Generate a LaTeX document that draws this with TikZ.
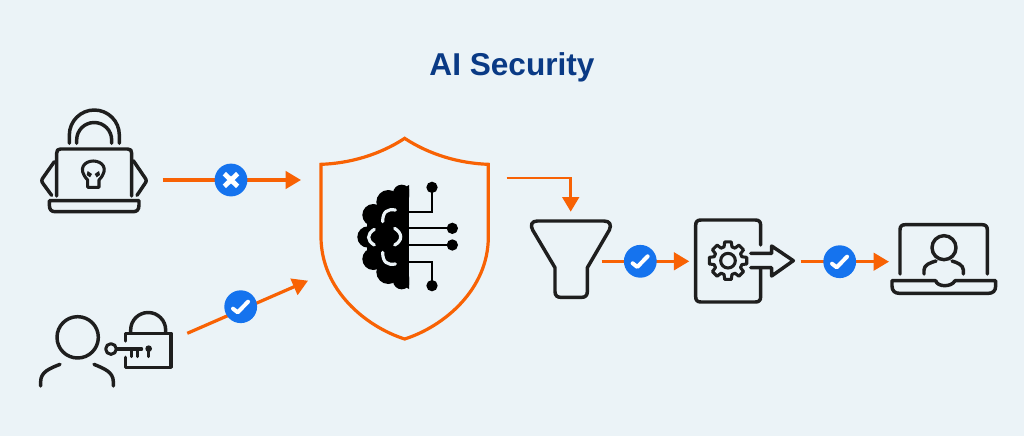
\documentclass[tikz,border=0pt]{standalone}
\usepackage{fontspec}
\setmainfont{Liberation Sans}
\usetikzlibrary{arrows.meta}
\definecolor{bg}{HTML}{EBF3F7}
\definecolor{org}{HTML}{F86204}
\definecolor{blu}{HTML}{1573EE}
\definecolor{ink}{HTML}{1E1E1E}
\definecolor{ttl}{HTML}{0A3A85}
\tikzset{
  icon/.style={draw=ink,line width=2.6pt,line cap=round,line join=round},
  thinicon/.style={draw=ink,line width=2.3pt,line cap=round,line join=round},
  flow/.style={draw=org,line width=2.4pt,-{Triangle[length=11.5pt,width=13pt]}},
  elbow/.style={draw=org,line width=2.1pt,-{Triangle[length=11pt,width=12.5pt]}},
  badge/.style={circle,fill=blu,draw=none,minimum size=24.6pt,inner sep=0pt},
  mk/.style={draw=white,line width=3pt,line cap=round,line join=round},
  zoomed/.style={x=.25pt,y=-.25pt}
}
\newcommand{\chk}[1]{\draw[mk,shift={(#1.center)},zoomed] (-23,6) -- (-9,17) -- (22,-15);}
\newcommand{\crs}[1]{\draw[mk,line cap=butt,line width=3.6pt,shift={(#1.center)},zoomed] (-20,-19) -- (20,19) (20,-19) -- (-20,19);}
\begin{document}
\begin{tikzpicture}[x=.75pt,y=-.75pt]
\useasboundingbox (0,0) rectangle (1024,436);
\fill[bg] (0,0) rectangle (1024,436);
\node[font=\bfseries\fontsize{23.7pt}{26pt}\selectfont,text=ttl,inner sep=0pt] (title) at (512,67) {AI Security};

% connector ends
\coordinate (a1s) at (162.7,180); \coordinate (a1e) at (301,180);
\coordinate (a2s) at (187.3,333.3); \coordinate (a2e) at (308,280.7);
\coordinate (a3s) at (506.7,178); \coordinate (a3c) at (570.7,178); \coordinate (a3e) at (570.7,211.7);
\coordinate (a4s) at (601.7,261.3); \coordinate (a4e) at (689.3,261.3);
\coordinate (a5s) at (800.7,261.7); \coordinate (a5e) at (889,261.7);

\draw[flow] (a1s) -- (a1e);
\draw[flow] (a2s) -- (a2e);
\draw[elbow] (a3s) -- (a3c) -- (a3e);
\draw[flow] (a4s) -- (a4e);
\draw[flow] (a5s) -- (a5e);

\node[badge] (b1) at (231,180) {}; \crs{b1}
\node[badge] (b2) at (240.7,306.7) {}; \chk{b2}
\node[badge] (b3) at (640.3,261.3) {}; \chk{b3}
\node[badge] (b4) at (839.7,261.7) {}; \chk{b4}

% hacker laptop
\begin{scope}[shift={(20,90)},zoomed]
  \draw[icon] (148,160) -- (148,135) arc[start angle=180,end angle=360,radius=75] -- (298,160);
  \draw[icon] (170,160) -- (170,150) arc[start angle=180,end angle=360,radius=52.5] -- (275,160);
  \draw[icon] (110,318) -- (110,190) .. controls (110,181) and (113,177) .. (122,177) -- (323,177) .. controls (332,177) and (335,181) .. (335,190) -- (335,318);
  \draw[icon] (103,215) -- (70,262) .. controls (64,270) and (64,274) .. (70,282) -- (95,316);
  \draw[icon] (340,212) -- (374,262) .. controls (380,270) and (380,274) .. (374,282) -- (351,316);
  \draw[icon] (88,332) -- (357,332) -- (357,345) .. controls (357,360) and (350,365) .. (340,365) -- (105,365) .. controls (95,365) and (88,360) .. (88,345) -- cycle;
  \draw[thinicon] (203,270) .. controls (170,235) and (195,213) .. (220,213) .. controls (245,213) and (270,235) .. (237,270) -- (237,292) -- (203,292) -- cycle;
  \fill[ink] (203,243) -- (216,252) -- (210,262) -- (200,255) -- cycle;
  \fill[ink] (237,243) -- (224,252) -- (230,262) -- (240,255) -- cycle;
\end{scope}

% user with key and lock
\begin{scope}[shift={(20,270)},zoomed]
  \draw[icon] (173,202) circle[radius=62];
  \draw[icon] (62,348) -- (62,335) .. controls (62,305) and (90,295) .. (120,283);
  \draw[icon] (280,348) -- (280,335) .. controls (280,305) and (250,295) .. (222,283);
  \draw[icon] (332,188) -- (332,180) arc[start angle=180,end angle=360,radius=52.5] -- (437,188);
  \draw[icon] (316,213) -- (316,190) -- (453,190) -- (453,292) -- (316,292) -- (316,262);
  \draw[thinicon] (273,237) circle[radius=16];
  \draw[thinicon] (290,237) -- (365,237) (335,237) -- (335,260) (352,237) -- (352,260);
  \fill[ink] (386,236) circle[radius=10];
  \draw[thinicon] (386,240) -- (386,260);
\end{scope}

% shield with brain
\begin{scope}[shift={(310,130)},zoomed]
  \draw[draw=org,line width=2.4pt,line join=miter] (284,25) .. controls (360,75) and (450,100) .. (535,103)
    -- (535,320) .. controls (535,480) and (400,590) .. (284,627)
    .. controls (168,590) and (33,480) .. (33,320) -- (33,103)
    .. controls (118,100) and (208,75) .. (284,25) -- cycle;
  \begin{scope}
    \clip (100,140) rectangle (297,500);
    \fill[black] (275,190) circle[radius=26];
    \fill[black] (235,216) circle[radius=36];
    \fill[black] (190,255) circle[radius=33];
    \fill[black] (174,321) circle[radius=32];
    \fill[black] (190,387) circle[radius=33];
    \fill[black] (235,426) circle[radius=36];
    \fill[black] (275,452) circle[radius=26];
    \fill[black] (200,215) rectangle (297,427);
    \fill[black] (170,270) rectangle (297,372);
    \fill[black] (262,180) rectangle (297,462);
    \fill[black] (297,165) -- (262,185) -- (297,200) -- cycle;
    \fill[black] (297,477) -- (262,457) -- (297,442) -- cycle;
  \end{scope}
  \draw[draw=bg,line width=2.4pt,line cap=round] (256,240) .. controls (232,236) and (218,245) .. (218,275);
  \draw[draw=bg,line width=2.4pt,line cap=round] (256,402) .. controls (232,406) and (218,397) .. (218,367);
  \draw[draw=bg,line width=2.4pt,line cap=round] (193,298) .. controls (170,312) and (170,332) .. (193,345);
  \draw[draw=bg,line width=2.4pt,line cap=round] (254,295) .. controls (278,310) and (278,332) .. (254,345);
  \draw[black,line width=1.5pt] (297,247) -- (367,247) -- (367,172);
  \draw[black,line width=1.5pt] (297,295) -- (427,295);
  \draw[black,line width=1.5pt] (297,345) -- (427,345);
  \draw[black,line width=1.5pt] (297,395) -- (367,395) -- (367,467);
  \fill[black] (366,172) circle[radius=17];
  \fill[black] (427,295) circle[radius=17];
  \fill[black] (427,345) circle[radius=17];
  \fill[black] (366,467) circle[radius=17];
\end{scope}

% funnel and document with gear
\begin{scope}[shift={(500,170)},zoomed]
  \draw[icon] (120,153) -- (312,153) .. controls (330,153) and (335,165) .. (328,180) -- (262,293) -- (262,365) .. controls (262,377) and (255,382) .. (245,382) -- (182,382) .. controls (172,382) and (165,377) .. (165,365) -- (165,293) -- (98,180) .. controls (90,165) and (95,153) .. (112,153) -- cycle;
  \draw[icon] (782,225) -- (782,166) .. controls (782,155) and (777,150) .. (766,150) -- (603,150) .. controls (592,150) and (587,155) .. (587,166) -- (587,380) .. controls (587,391) and (592,396) .. (603,396) -- (766,396) .. controls (777,396) and (782,391) .. (782,380) -- (782,297);
  \draw[icon] (752,250) -- (815,250) -- (815,228) -- (880,272) -- (815,318) -- (815,293) -- (752,293);
  \begin{scope}[shift={(684,272)}]
    \draw[thinicon] (0,0) circle[radius=22];
    \draw[thinicon] (-16:43) \foreach \a in {0,45,...,315} { -- (\a-16:43) -- (\a-10:57) -- (\a+10:57) -- (\a+16:43)} -- cycle;
  \end{scope}
\end{scope}

% user laptop
\begin{scope}[shift={(780,210)},zoomed]
  \draw[icon] (360,192) -- (360,60) .. controls (360,49) and (365,44) .. (376,44) -- (606,44) .. controls (617,44) and (622,49) .. (622,60) -- (622,192);
  \draw[icon] (492,113) circle[radius=36];
  \draw[icon] (432,192) -- (432,180) .. controls (432,165) and (450,158) .. (468,153);
  \draw[icon] (550,192) -- (550,180) .. controls (550,165) and (532,158) .. (516,153);
  \draw[icon] (467,212) -- (336,212) -- (336,228) .. controls (336,243) and (345,250) .. (358,250) -- (625,250) .. controls (638,250) and (647,243) .. (647,228) -- (647,212) -- (525,212);
  \draw[icon] (467,212) .. controls (472,232) and (515,232) .. (525,212);
\end{scope}
\end{tikzpicture}
\end{document}
